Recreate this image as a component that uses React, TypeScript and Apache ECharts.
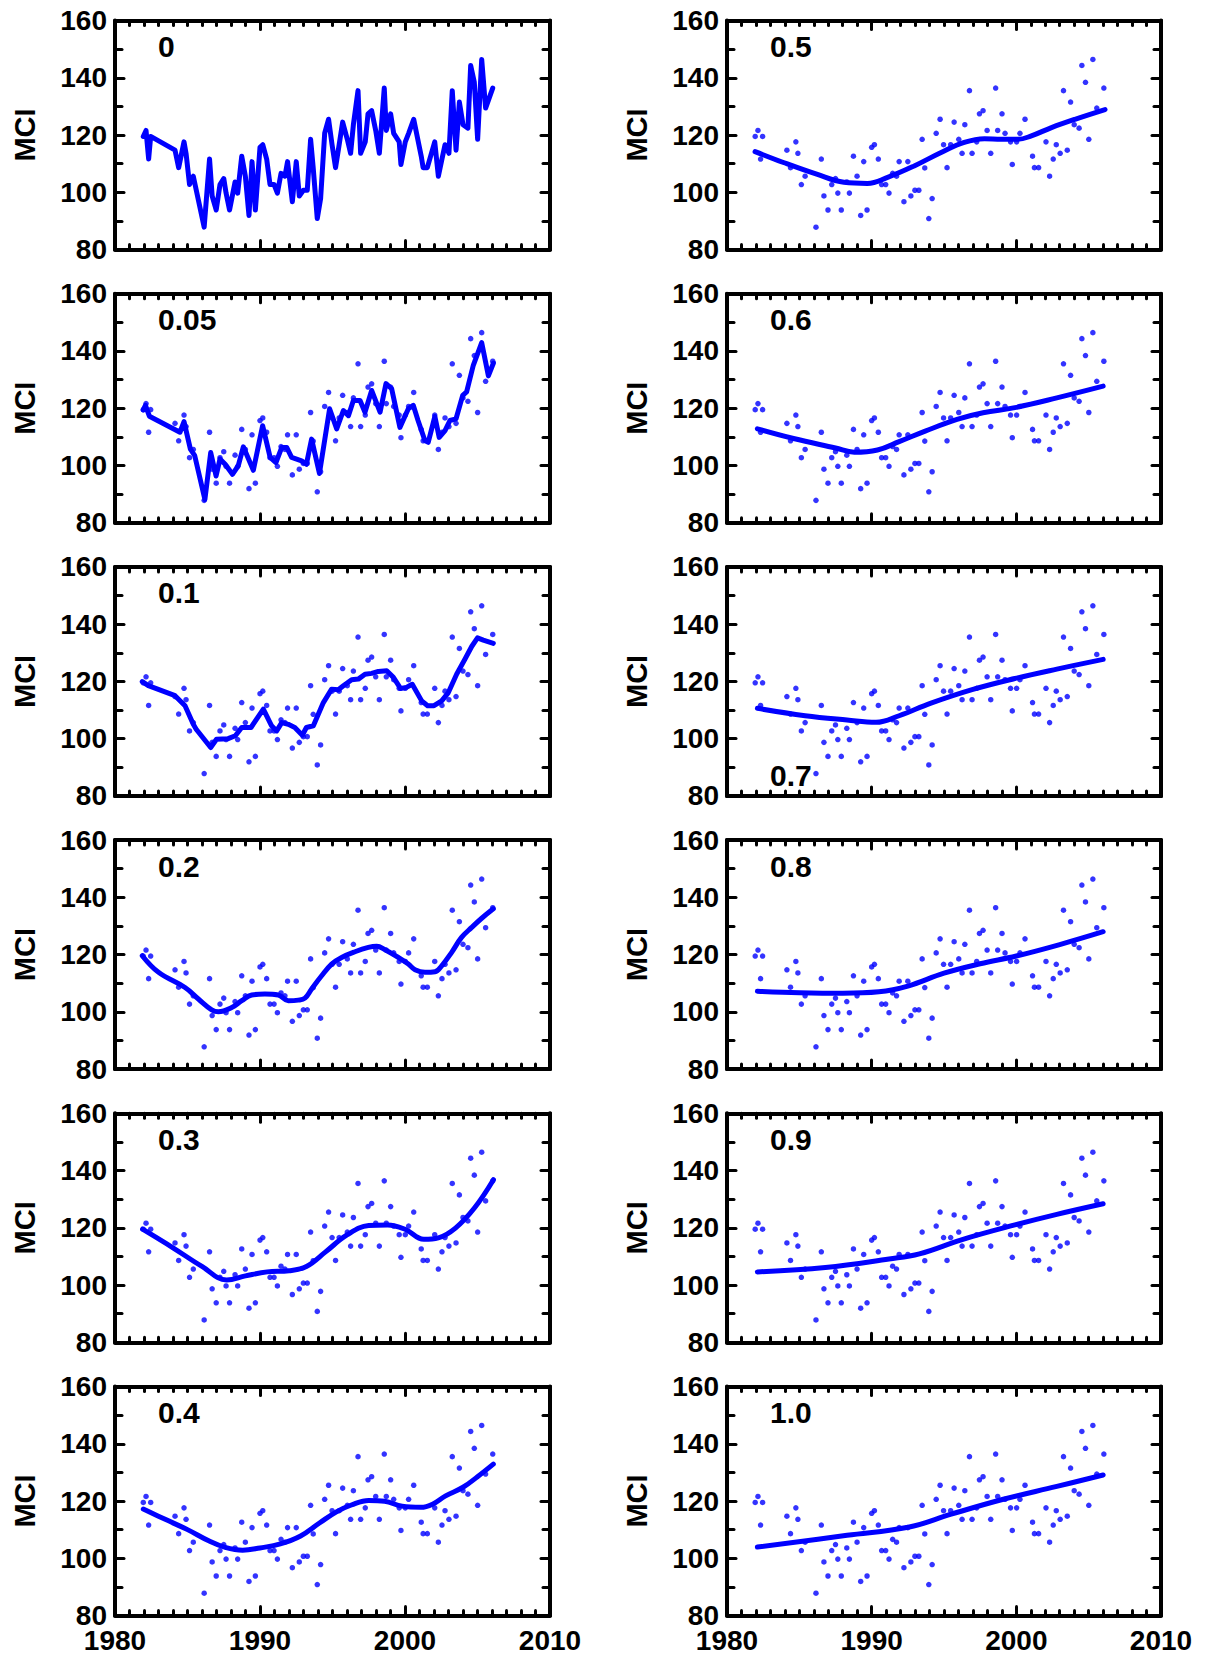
import React, { useEffect, useRef } from "react";
import * as echarts from "echarts";

// Raw MCI observations (year, value)
const years = [
  1981.95, 1982.14, 1982.32, 1982.46, 1984.14, 1984.39, 1984.76, 1984.9, 1985.14, 1985.4,
  1986.15, 1986.52, 1986.7, 1986.98, 1987.24, 1987.5, 1987.66, 1987.9, 1988.28, 1988.46,
  1988.74, 1988.99, 1989.24, 1989.45, 1989.68, 1990.0, 1990.19, 1990.46, 1990.69, 1990.97,
  1991.2, 1991.45, 1991.72, 1991.9, 1992.23, 1992.5, 1992.71, 1992.99, 1993.26, 1993.49,
  1993.67, 1993.95, 1994.18, 1994.46, 1994.73, 1994.97, 1995.21, 1995.46, 1995.7, 1996.02,
  1996.25, 1996.44, 1996.76, 1996.94, 1997.26, 1997.45, 1997.7, 1997.98, 1998.23, 1998.57,
  1998.71, 1999.01, 1999.22, 1999.6, 1999.72, 2000.02, 2000.25, 2000.6, 2001.12, 2001.25,
  2001.54, 2002.05, 2002.3, 2002.55, 2002.76, 2003.03, 2003.26, 2003.52, 2003.75, 2004.0,
  2004.34, 2004.53, 2004.78, 2005.01, 2005.29, 2005.56, 2006.05,
];
const mci = [
  119.5, 121.6, 111.6, 119.5, 114.7, 108.6, 117.6, 113.6, 102.7, 105.6,
  87.8, 111.6, 98.7, 93.8, 102.7, 104.8, 99.7, 93.8, 103.6, 99.7,
  112.6, 105.6, 91.9, 110.7, 93.8, 115.7, 116.6, 111.6, 102.7, 102.7,
  99.7, 106.6, 105.6, 110.7, 96.7, 110.7, 98.7, 100.7, 100.7, 118.5,
  108.5, 90.8, 97.8, 120.6, 125.5, 116.6, 108.6, 116.6, 124.5, 118.5,
  113.6, 123.6, 135.5, 113.6, 117.6, 127.4, 128.5, 121.6, 113.6, 136.4,
  121.6, 127.4, 120.6, 117.6, 109.7, 117.6, 120.6, 125.5, 112.6, 108.6,
  108.6, 117.6, 105.6, 111.6, 116.6, 113.6, 135.5, 114.7, 131.5, 123.6,
  122.4, 144.3, 138.4, 118.5, 146.4, 129.4, 136.4,
];

// Smoothed curves, [year, MCI]
const fit005 = [
  [1981.95, 119.4], [1982.1, 121.0], [1982.37, 117.2], [1984.25, 112.2], [1984.48, 111.6],
  [1984.76, 115.3], [1985.2, 105.7], [1985.5, 103.4], [1986.2, 88.1], [1986.6, 104.5],
  [1986.97, 96.3], [1987.24, 102.2], [1987.6, 100.4], [1988.1, 96.9], [1988.5, 99.9],
  [1988.85, 106.5], [1989.54, 98.3], [1990.18, 113.9], [1990.7, 102.8], [1991.1, 101.0],
  [1991.5, 106.3], [1991.84, 106.3], [1992.18, 102.8], [1992.87, 101.6], [1993.2, 100.4],
  [1993.56, 109.2], [1994.1, 97.2], [1994.8, 119.8], [1995.29, 112.8], [1995.75, 119.2],
  [1996.1, 117.4], [1996.44, 122.7], [1996.9, 122.7], [1997.24, 118.6], [1997.7, 126.2],
  [1998.28, 118.6], [1998.69, 128.6], [1999.08, 126.8], [1999.65, 113.3], [2000.23, 119.8],
  [2000.57, 121.0], [2000.9, 115.7], [2001.37, 108.7], [2001.6, 108.1], [2002.06, 117.1],
  [2002.36, 109.8], [2002.76, 112.2], [2003.1, 115.7], [2003.52, 116.3], [2003.98, 124.5],
  [2004.25, 125.7], [2004.71, 135.0], [2005.29, 142.9], [2005.75, 131.3], [2006.1, 135.8],
];
const fit01 = [
  [1981.88, 119.9], [1982.3, 118.5], [1984.14, 115.0], [1984.83, 111.5], [1985.4, 105.0],
  [1985.6, 103.3], [1986.6, 96.9], [1987.0, 99.8], [1987.8, 100.0], [1988.3, 101.0],
  [1988.74, 103.9], [1989.38, 103.9], [1990.23, 110.3], [1990.8, 104.5], [1991.15, 102.7],
  [1991.5, 105.6], [1991.95, 105.0], [1992.4, 103.9], [1992.92, 101.2], [1993.2, 103.9],
  [1993.68, 104.5], [1994.37, 112.6], [1994.94, 117.3], [1995.4, 117.1], [1995.75, 118.5],
  [1996.32, 120.6], [1996.78, 120.8], [1997.24, 122.5], [1997.7, 122.8], [1998.16, 123.5],
  [1998.74, 123.7], [1999.2, 121.4], [1999.7, 117.5], [2000.1, 117.9], [2000.5, 119.0],
  [2001.15, 113.2], [2001.56, 111.5], [2002.0, 111.5], [2002.53, 113.2], [2002.99, 116.1],
  [2003.56, 122.5], [2004.14, 127.8], [2004.6, 132.2], [2005.0, 135.2], [2005.4, 134.4],
  [2006.09, 133.3],
];
const fit02 = [
  [1981.88, 119.6], [1983.0, 113.8], [1984.83, 108.5], [1985.75, 104.5], [1986.67, 100.7],
  [1987.13, 100.0], [1988.05, 101.5], [1988.74, 103.9], [1989.43, 105.9], [1990.34, 106.2],
  [1991.26, 105.9], [1991.95, 103.9], [1992.64, 104.1], [1993.1, 104.8], [1993.56, 108.0],
  [1994.25, 112.6], [1994.94, 116.7], [1995.63, 119.0], [1996.55, 121.0], [1997.47, 122.5],
  [1998.05, 122.9], [1998.62, 121.7], [1999.54, 119.0], [2000.23, 116.7], [2000.69, 114.7],
  [2001.38, 113.8], [2002.07, 114.0], [2002.53, 116.1], [2003.22, 120.8], [2003.9, 126.0],
  [2004.6, 129.5], [2005.29, 132.7], [2006.09, 136.0],
];
const fit03 = [
  [1981.9, 119.5], [1984.0, 113.0], [1986.0, 106.5], [1987.7, 101.8], [1989.0, 103.2],
  [1990.5, 104.6], [1992.0, 105.0], [1993.2, 106.5], [1994.5, 111.5], [1996.0, 117.5],
  [1997.5, 120.8], [1998.8, 121.0], [2000.0, 119.5], [2001.3, 116.0], [2002.3, 116.5],
  [2003.5, 120.0], [2004.8, 127.0], [2006.1, 136.8],
];
const fit04 = [
  [1981.95, 117.2], [1983.5, 113.5], [1985.0, 110.0], [1986.5, 106.0], [1987.6, 103.8],
  [1988.8, 102.8], [1990.0, 103.6], [1991.4, 105.0], [1992.8, 107.8], [1994.1, 112.3],
  [1995.3, 116.3], [1996.3, 118.6], [1997.5, 120.2], [1998.6, 119.9], [1999.8, 118.2],
  [2001.1, 117.8], [2001.9, 118.9], [2002.8, 121.8], [2004.0, 124.8], [2005.0, 128.5],
  [2006.09, 132.9],
];
const fit05 = [
  [1981.94, 114.2], [1983.9, 110.4], [1986.2, 106.3], [1988.08, 103.5], [1989.7, 103.1],
  [1991.1, 105.2], [1992.94, 109.2], [1994.8, 113.9], [1996.4, 117.4], [1997.8, 118.7],
  [1998.96, 118.5], [2000.1, 118.5], [2001.04, 119.7], [2002.43, 122.6], [2004.05, 125.5],
  [2006.13, 128.9],
];
const fit06 = [
  [1982.1, 112.8], [1984.6, 109.4], [1987.5, 106.1], [1988.8, 104.6], [1990.4, 105.4],
  [1991.9, 108.3], [1993.7, 112.0], [1995.9, 116.1], [1997.7, 118.4], [1999.9, 120.2],
  [2002.8, 123.6], [2006.0, 127.7],
];
const fit07 = [
  [1982.1, 110.6], [1985.4, 108.0], [1988.3, 106.5], [1990.3, 105.7], [1991.9, 108.0],
  [1994.1, 112.4], [1997.0, 117.2], [1999.9, 121.0], [2002.8, 124.3], [2006.0, 127.7],
];
const fit08 = [
  [1982.1, 107.2], [1985.0, 106.7], [1988.0, 106.5], [1990.5, 107.0], [1992.5, 109.0],
  [1995.0, 113.5], [1997.5, 116.8], [2000.0, 119.5], [2003.0, 123.5], [2006.0, 128.0],
];
const fit09 = [
  [1982.1, 104.6], [1986.8, 106.1], [1991.2, 109.1], [1993.3, 110.9], [1996.2, 115.8],
  [1999.9, 121.0], [2002.8, 124.7], [2006.0, 128.4],
];
const fit10 = [
  [1982.1, 103.9], [1988.3, 108.0], [1992.6, 110.9], [1995.5, 115.4], [1999.1, 120.6],
  [2002.8, 125.1], [2006.0, 129.1],
];

const panelLabels = ["0", "0.05", "0.1", "0.2", "0.3", "0.4", "0.5", "0.6", "0.7", "0.8", "0.9", "1.0"];
const panelFits: (number[][] | null)[] = [null, fit005, fit01, fit02, fit03, fit04, fit05, fit06, fit07, fit08, fit09, fit10];
const yTicks = [80, 100, 120, 140, 160];
const xTicks = [1980, 1990, 2000, 2010];

const BLUE = "#0000ff";
const FONT = "'Liberation Sans', Arial, Helvetica, sans-serif";

export default function App() {
  const ref = useRef<HTMLDivElement>(null);
  useEffect(() => {
    const chart = echarts.init(ref.current!, null, { renderer: "svg" });
    const cols = [
      { left: 115, width: 435 },
      { left: 727, width: 434 },
    ];
    const grids: any[] = [];
    const xAxes: any[] = [];
    const yAxes: any[] = [];
    const series: any[] = [];
    const graphics: any[] = [];
    const pts = years.map((x, j) => [x, mci[j]]);

    const tickStyle = { color: "#000", width: 3, cap: "round" };
    for (let i = 0; i < 12; i++) {
      const col = i < 6 ? 0 : 1;
      const row = i % 6;
      const top = 20.5 + 273.2 * row;
      const height = 229;
      grids.push({ left: cols[col].left, top, width: cols[col].width, height });
      const baseX = {
        gridIndex: i,
        type: "value",
        min: xTicks[0],
        max: xTicks[xTicks.length - 1],
        interval: 10,
        axisLine: { show: true, lineStyle: { color: "#000", width: 4 } },
        axisTick: { show: true, inside: true, length: 9, lineStyle: tickStyle },
        minorTick: { show: true, splitNumber: 10, length: 5, lineStyle: tickStyle },
        splitLine: { show: false },
      };
      xAxes.push({
        ...baseX,
        position: "bottom",
        axisLabel: {
          show: row === 5,
          color: "#000",
          fontFamily: FONT,
          fontWeight: "bold",
          fontSize: 28,
          lineHeight: 22,
          margin: 14,
          formatter: (v: number) => String(v),
        },
      });
      xAxes.push({ ...baseX, position: "top", axisLabel: { show: false } });
      const baseY = {
        gridIndex: i,
        type: "value",
        min: yTicks[0],
        max: yTicks[yTicks.length - 1],
        interval: 20,
        axisLine: { show: true, lineStyle: { color: "#000", width: 4 } },
        axisTick: { show: true, inside: true, length: 9, lineStyle: tickStyle },
        minorTick: { show: true, splitNumber: 2, length: 7, lineStyle: tickStyle },
        splitLine: { show: false },
      };
      yAxes.push({
        ...baseY,
        position: "left",
        name: "MCI",
        nameLocation: "middle",
        nameRotate: 90,
        nameGap: 76,
        nameTextStyle: { color: "#000", fontFamily: FONT, fontWeight: "bold", fontSize: 29 },
        axisLabel: {
          color: "#000",
          fontFamily: FONT,
          fontWeight: "bold",
          fontSize: 28,
          lineHeight: 22,
          margin: 8,
          formatter: (v: number) => String(v),
        },
      });
      yAxes.push({ ...baseY, position: "right", axisLabel: { show: false } });

      const fit = panelFits[i];
      if (i === 0) {
        series.push({
          type: "line",
          xAxisIndex: 2 * i,
          yAxisIndex: 2 * i,
          data: pts,
          symbol: "none",
          lineStyle: { color: BLUE, width: 5, join: "round", cap: "round" },
        });
      } else {
        series.push({
          type: "scatter",
          xAxisIndex: 2 * i,
          yAxisIndex: 2 * i,
          data: pts,
          symbolSize: 5.5,
          itemStyle: { color: BLUE },
        });
        series.push({
          type: "line",
          xAxisIndex: 2 * i,
          yAxisIndex: 2 * i,
          data: fit,
          symbol: "none",
          smooth: i >= 3 ? 0.4 : false,
          lineStyle: { color: BLUE, width: 5, join: "round", cap: "round" },
        });
      }
      const isBottomLabel = panelLabels[i] === "0.7";
      graphics.push({
        type: "text",
        left: cols[col].left + 43,
        top: top + (isBottomLabel ? 194 : 11),
        style: {
          text: panelLabels[i],
          fill: "#000",
          font: `bold 30px ${FONT}`,
        },
      });
    }

    chart.setOption({
      animation: false,
      backgroundColor: "#fff",
      grid: grids,
      xAxis: xAxes,
      yAxis: yAxes,
      series,
      graphic: graphics,
    });
    return () => chart.dispose();
  }, []);
  return (
    <div
      ref={ref}
      style={{ position: "fixed", left: 0, top: 0, width: 1205, height: 1657, background: "#fff" }}
    />
  );
}
